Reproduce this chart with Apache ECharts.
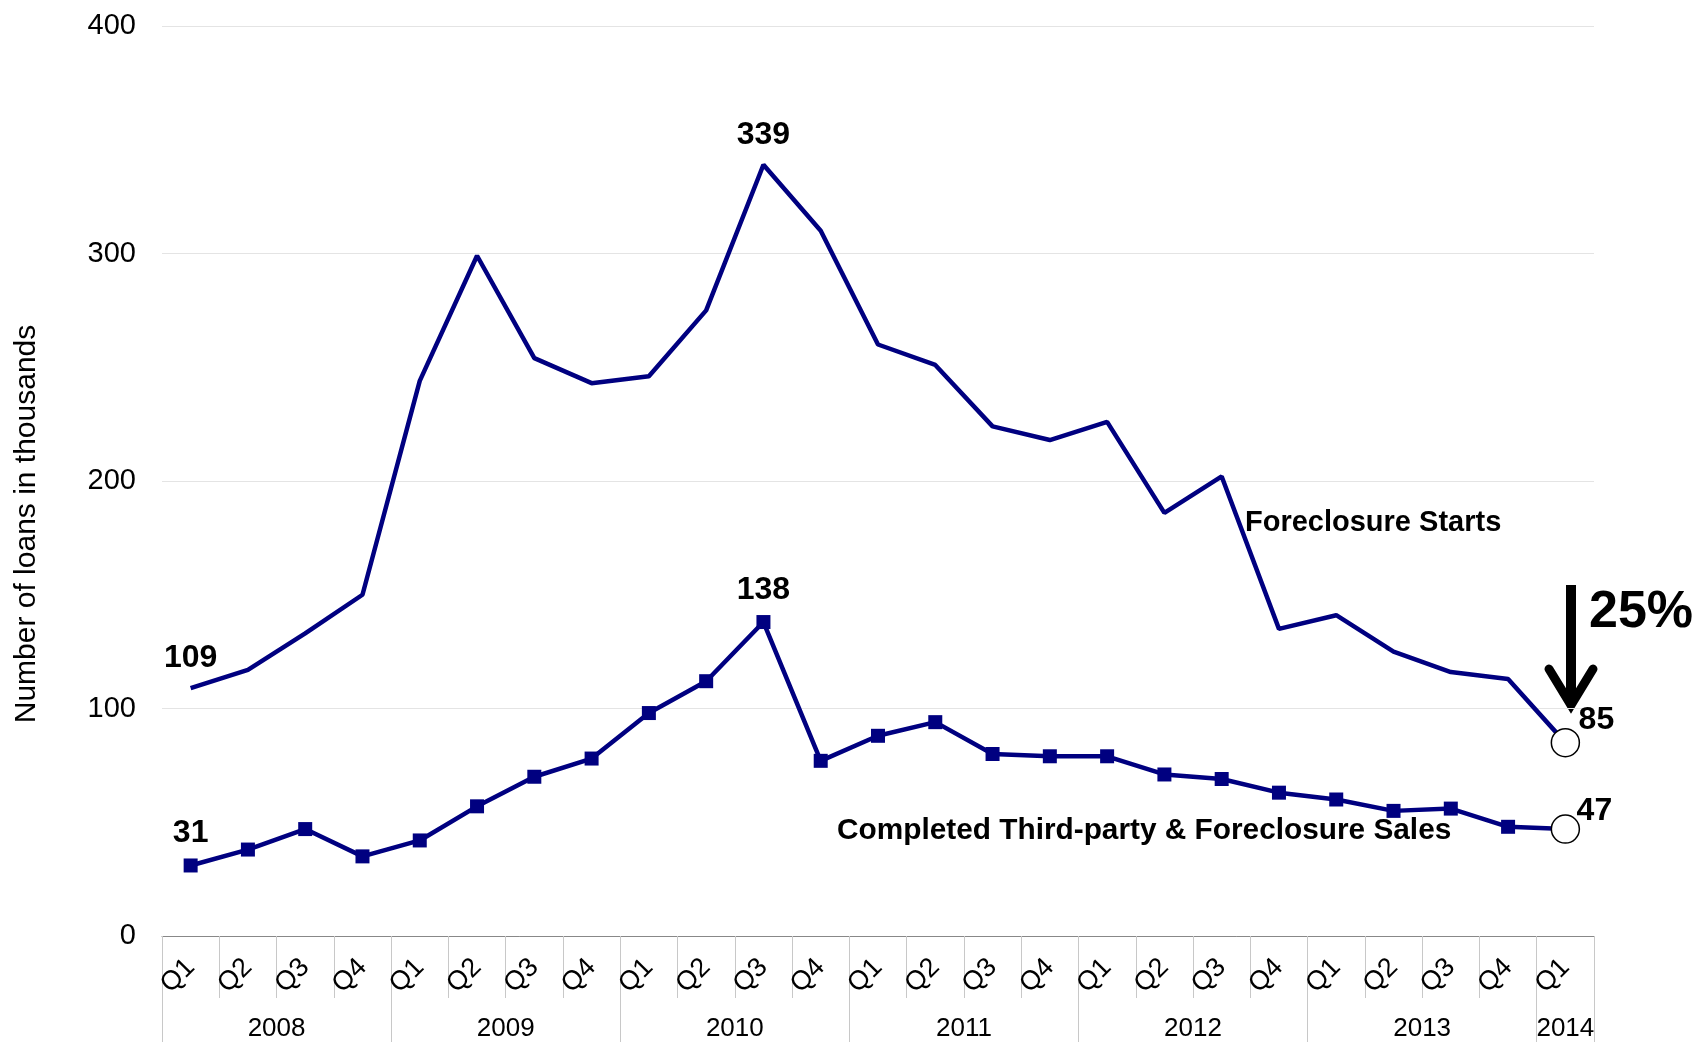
<!DOCTYPE html>
<html>
<head>
<meta charset="utf-8">
<title>Foreclosure Starts and Completed Sales</title>
<script src="https://cdn.jsdelivr.net/npm/echarts@6/dist/echarts.min.js"></script>
<style>
  html, body { margin: 0; padding: 0; background: #fff; }
  #chart { width: 1697px; height: 1042px; }
</style>
</head>
<body>
<div id="chart"></div>
<script>
// quarters, 2008 Q1 .. 2014 Q1
const quarters = [
  'Q1', 'Q2', 'Q3', 'Q4', 'Q1', 'Q2', 'Q3', 'Q4', 'Q1', 'Q2', 'Q3', 'Q4',
  'Q1', 'Q2', 'Q3', 'Q4', 'Q1', 'Q2', 'Q3', 'Q4', 'Q1', 'Q2', 'Q3', 'Q4', 'Q1'
];
const years = ['2008', '2009', '2010', '2011', '2012', '2013', '2014'];
const quartersPerYear = [4, 4, 4, 4, 4, 4, 1];

// thousands of loans
const foreclosureStarts = [
  109, 117, 133, 150, 244, 299, 254, 243, 246, 275, 339, 310,
  260, 251, 224, 218, 226, 186, 202, 135, 141, 125, 116, 113, 85
];
const completedSales = [
  31, 38, 47, 35, 42, 57, 70, 78, 98, 112, 138, 77,
  88, 94, 80, 79, 79, 71, 69, 63, 60, 55, 56, 48, 47
];
const yTicks = [0, 100, 200, 300, 400];
const labelledPoints = [0, 10, 24]; // first, peak, last

const FONT = 'Liberation Sans, Arial, sans-serif';
const NAVY = '#000080';
const GRID_GRAY = '#c8c8c8';

// year boundaries and year centres on the 0..25 quarter scale
const yearBounds = [0];
quartersPerYear.forEach(n => yearBounds.push(yearBounds[yearBounds.length - 1] + n));
const yearCenters = years.map((y, i) => (yearBounds[i] + yearBounds[i + 1]) / 2);

const chart = echarts.init(document.getElementById('chart'));

function labelFor(i, last, offsetLast, distance) {
  if (labelledPoints.indexOf(i) < 0) return { show: false };
  const base = {
    show: true,
    fontFamily: FONT,
    fontWeight: 'bold',
    fontSize: 32,
    color: '#000'
  };
  if (i === last) {
    return Object.assign(base, { position: offsetLast });
  }
  return Object.assign(base, { position: 'top', distance: distance });
}

const lastIdx = quarters.length - 1;

const startsData = foreclosureStarts.map((v, i) => {
  const item = { value: v, label: labelFor(i, lastIdx, [28, -24], 14) };
  if (i === lastIdx) {
    item.symbol = 'circle';
    item.symbolSize = 28;
    item.itemStyle = { color: '#fff', borderColor: '#000', borderWidth: 1.5 };
  }
  return item;
});

const salesData = completedSales.map((v, i) => {
  const item = { value: v, label: labelFor(i, lastIdx, [26, -19], 9) };
  if (i === lastIdx) {
    item.symbol = 'circle';
    item.symbolSize = 28;
    item.itemStyle = { color: '#fff', borderColor: '#000', borderWidth: 1.5 };
  }
  return item;
});

const option = {
  animation: false,
  backgroundColor: '#fff',
  grid: {
    left: 162, right: 103, top: 26, bottom: 106,
    containLabel: false,
    outerBoundsMode: 'none'
  },
  xAxis: [
    {
      type: 'category',
      data: quarters,
      position: 'bottom',
      boundaryGap: true,
      axisLine: { lineStyle: { color: '#888', width: 1 } },
      axisTick: { show: true, interval: 0, length: 62, lineStyle: { color: GRID_GRAY } },
      axisLabel: {
        interval: 0,
        rotate: 45,
        margin: 27,
        fontFamily: FONT,
        fontSize: 27,
        color: '#000'
      },
      splitLine: { show: false }
    },
    {
      // year row under the quarters
      type: 'value',
      position: 'bottom',
      min: 0,
      max: quarters.length,
      axisLine: { show: false },
      axisTick: {
        show: true,
        customValues: yearBounds,
        length: 110,
        lineStyle: { color: GRID_GRAY }
      },
      axisLabel: {
        customValues: yearCenters,
        margin: 80,
        fontFamily: FONT,
        fontSize: 26,
        color: '#000',
        formatter: v => years[yearCenters.indexOf(v)] || ''
      },
      splitLine: { show: false }
    }
  ],
  yAxis: {
    type: 'value',
    min: yTicks[0],
    max: yTicks[yTicks.length - 1],
    interval: 100,
    name: 'Number of loans in thousands',
    nameLocation: 'middle',
    nameGap: 120,
    nameTextStyle: { fontFamily: FONT, fontSize: 30, color: '#000', padding: [0, 86, 0, 0] },
    axisLine: { show: false },
    axisTick: { show: false },
    axisLabel: { margin: 26, fontFamily: FONT, fontSize: 29, color: '#000' },
    splitLine: { lineStyle: { color: '#e4e4e4', width: 1 } }
  },
  series: [
    {
      name: 'Foreclosure Starts',
      type: 'line',
      xAxisIndex: 0,
      data: startsData,
      symbol: 'circle',
      symbolSize: 0,
      showAllSymbol: true,
      lineStyle: { color: NAVY, width: 4.5 },
      itemStyle: { color: NAVY },
      z: 3
    },
    {
      name: 'Completed Third-party & Foreclosure Sales',
      type: 'line',
      xAxisIndex: 0,
      data: salesData,
      symbol: 'rect',
      symbolSize: 14,
      showAllSymbol: true,
      lineStyle: { color: NAVY, width: 4.5 },
      itemStyle: { color: NAVY },
      z: 3
    }
  ],
  graphic: [
    {
      type: 'text',
      x: 1245, y: 523,
      style: {
        text: 'Foreclosure Starts',
        font: 'bold 29px ' + FONT,
        fill: '#000',
        textVerticalAlign: 'middle'
      }
    },
    {
      type: 'text',
      x: 837, y: 831,
      style: {
        text: 'Completed Third-party & Foreclosure Sales',
        font: 'bold 29.8px ' + FONT,
        fill: '#000',
        textVerticalAlign: 'middle'
      }
    },
    {
      type: 'text',
      x: 1589, y: 613,
      style: {
        text: '25%',
        font: 'bold 52px ' + FONT,
        fill: '#000',
        textVerticalAlign: 'middle'
      }
    },
    {
      // down arrow next to the 25%
      type: 'group',
      children: [
        {
          type: 'line',
          shape: { x1: 1571, y1: 585, x2: 1571, y2: 700 },
          style: { stroke: '#000', lineWidth: 10 }
        },
        {
          type: 'polyline',
          shape: { points: [[1549, 669], [1571, 705], [1593, 669]] },
          style: { stroke: '#000', lineWidth: 9, lineCap: 'round', lineJoin: 'miter', fill: null }
        }
      ]
    }
  ]
};

chart.setOption(option);
</script>
</body>
</html>
